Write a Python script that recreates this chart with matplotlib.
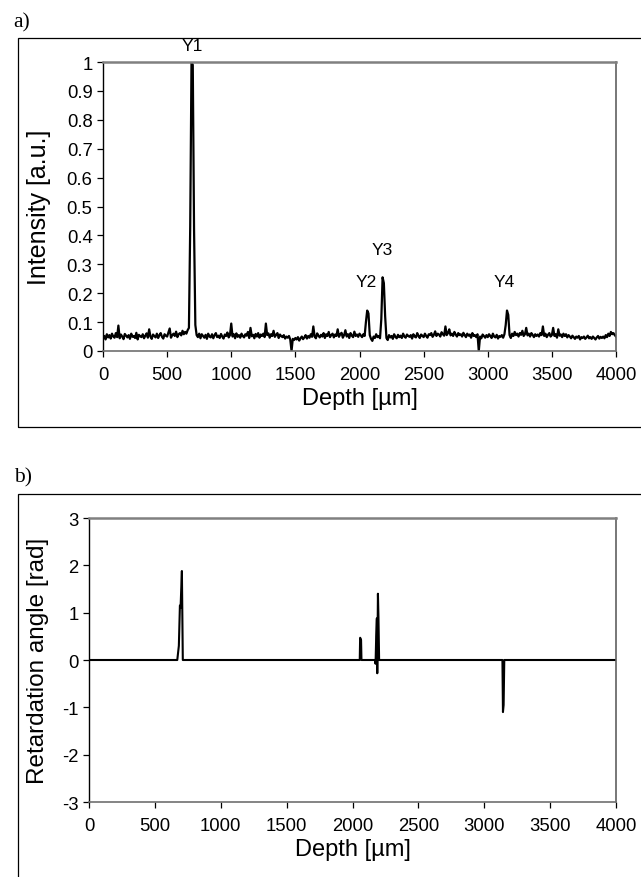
import numpy as np
import matplotlib
matplotlib.use("Agg")
import matplotlib.pyplot as plt
from matplotlib.patches import Rectangle

plt.rcParams['font.family'] = ['Liberation Sans', 'DejaVu Sans']
plt.rcParams['axes.unicode_minus'] = False

#---------------------------------------------------------------------------------------------------
# Data
#---------------------------------------------------------------------------------------------------
# a) intensity, one value every 10 um from 0 to 4000 um, in thousandths of a.u.
depth_step = 10
intensity_milli = [
    45, 52, 40, 58, 47, 55, 43, 60, 50, 46,
    62, 48, 88, 44, 57, 50, 41, 59, 53, 47,
    55, 42, 60, 49, 52, 45, 63, 40, 56, 51,
    48, 58, 44, 53, 61, 46, 75, 50, 42, 57,
    52, 47, 60, 45, 55, 62, 49, 43, 58, 53,
    50, 64, 78, 46, 55, 60, 52, 67, 48, 58,
    62, 54, 70, 58, 66, 60, 72, 80, 430, 1000,
    990, 420, 90, 55, 48, 60, 44, 58, 52, 46,
    56, 42, 60, 50, 47, 58, 44, 55, 62, 48,
    53, 45, 59, 50, 43, 57, 52, 64, 47, 55,
    95, 50, 58, 44, 61, 49, 55, 46, 60, 52,
    47, 58, 53, 66, 45, 80, 51, 56, 44, 59,
    50, 62, 46, 57, 52, 60, 48, 95, 55, 61,
    46, 58, 52, 70, 49, 56, 62, 45, 57, 51,
    48, 55, 43, 50, 46, 52, 40, 0, 42, 38,
    45, 40, 48, 36, 44, 50, 41, 47, 55, 43,
    52, 46, 58, 49, 85, 50, 44, 61, 53, 47,
    56, 50, 62, 45, 58, 52, 66, 48, 55, 60,
    47, 57, 52, 75, 49, 58, 63, 46, 55, 72,
    50, 58, 45, 62, 53, 48, 67, 52, 57, 49,
    60, 54, 48, 58, 52, 100, 140, 130, 55, 42,
    35, 50, 45, 58, 48, 52, 44, 110, 255, 235,
    120, 45, 38, 55, 47, 52, 42, 58, 49, 44,
    56, 48, 53, 45, 60, 50, 46, 57, 52, 49,
    55, 43, 58, 50, 47, 62, 52, 45, 57, 53,
    48, 60, 52, 46, 58, 55, 62, 49, 56, 68,
    52, 60, 57, 50, 65, 58, 53, 85, 55, 62,
    75, 54, 60, 52, 66, 57, 50, 62, 55, 58,
    50, 63, 55, 48, 60, 53, 57, 46, 62, 52,
    55, 48, 58, 0, 50, 44, 57, 52, 46, 55,
    48, 58, 52, 45, 60, 50, 47, 56, 43, 52,
    49, 55, 46, 58, 90, 140, 125, 55, 45, 60,
    52, 66, 55, 60, 50, 62, 56, 70, 52, 58,
    80, 54, 60, 50, 62, 56, 48, 58, 52, 57,
    50, 62, 55, 85, 52, 60, 48, 56, 62, 50,
    55, 80, 52, 58, 46, 75, 53, 57, 48, 60,
    52, 58, 47, 55, 50, 44, 53, 48, 42, 50,
    46, 52, 40, 48, 45, 50, 42, 47, 53, 44,
    48, 42, 50, 45, 40, 47, 52, 43, 49, 45,
    50, 44, 55, 48, 60, 52, 66, 58, 62, 55,
    50,
]
depth_a = np.arange(len(intensity_milli)) * depth_step
intensity = np.array(intensity_milli) / 1000.0

peak_labels = ["Y1", "Y2", "Y3", "Y4"]
peak_label_x = [700, 2055, 2180, 3130]
peak_label_y = [1.03, 0.215, 0.325, 0.215]

# b) retardation angle, zero except at the four interfaces
depth_b = [0, 670, 682, 690, 695, 705, 712,
           2055, 2058, 2065, 2068,
           2170, 2175, 2180, 2185, 2188, 2193, 2197, 2202,
           3138, 3142, 3147, 3152, 4000]
retardation = [0, 0, 0.3, 1.15, 1.1, 1.88, 0,
               0, 0.47, 0.42, 0,
               0, -0.08, 0.5, 0.88, -0.28, 1.4, 0.9, 0,
               0, -1.1, -0.95, 0, 0]

x_ticks = list(range(0, 4001, 500))
a_ticks = [0, 0.1, 0.2, 0.3, 0.4, 0.5, 0.6, 0.7, 0.8, 0.9, 1]
a_tick_labels = ["0", "0.1", "0.2", "0.3", "0.4", "0.5", "0.6", "0.7", "0.8", "0.9", "1"]
b_ticks = [-3, -2, -1, 0, 1, 2, 3]

#---------------------------------------------------------------------------------------------------
# Helpers
#---------------------------------------------------------------------------------------------------
W, H = 641, 878


def style_axes(ax):
    ax.spines['left'].set_color('black')
    ax.spines['left'].set_linewidth(1.0)
    ax.spines['bottom'].set_color('#707070')
    ax.spines['bottom'].set_linewidth(1.2)
    ax.spines['top'].set_color('#808080')
    ax.spines['top'].set_linewidth(1.8)
    ax.spines['right'].set_color('#606060')
    ax.spines['right'].set_linewidth(1.2)
    ax.tick_params(direction='out', length=4.5, width=0.9, color='black', labelsize=13.3)
    ax.tick_params(axis='x', pad=6)
    ax.tick_params(axis='y', pad=3)
    ax.set_xlim(0, 4000)
    ax.set_xticks(x_ticks)
    ax.set_xlabel("Depth [µm]", fontsize=17, labelpad=3)


def frame_box(fig, left, top, bottom, right=W + 5):
    fig.patches.append(Rectangle((left / W, 1 - bottom / H), (right - left) / W, (bottom - top) / H,
                                 transform=fig.transFigure, fill=False, edgecolor='black',
                                 linewidth=0.9, zorder=0))


#---------------------------------------------------------------------------------------------------
# Figure
#---------------------------------------------------------------------------------------------------
fig = plt.figure(figsize=(W / 100, H / 100), dpi=100)

frame_box(fig, 18, 39, 428)
frame_box(fig, 18, 495, H + 5)

fig.text(13 / W, 1 - 23 / H, "a)", family='Liberation Serif', fontsize=15.5, va='center', ha='left')
fig.text(14 / W, 1 - 478 / H, "b)", family='Liberation Serif', fontsize=15.5, va='center', ha='left')

# a) intensity
ax1 = fig.add_axes([103 / W, 1 - 352 / H, (616 - 103) / W, (352 - 63) / H])
ax1.plot(depth_a, intensity, color='black', linewidth=1.6)
ax1.set_ylim(0, 1)
ax1.set_yticks(a_ticks)
ax1.set_yticklabels(a_tick_labels)
style_axes(ax1)
ax1.set_ylabel("Intensity [a.u.]", fontsize=18, va='center')
ax1.yaxis.set_label_coords((39 - 103) / (616 - 103), 0.5)
for label, lx, ly in zip(peak_labels, peak_label_x, peak_label_y):
    ax1.text(lx, ly, label, fontsize=12.5, ha='center', va='bottom', clip_on=False)

# b) retardation angle
ax2 = fig.add_axes([89 / W, 1 - 803 / H, (616 - 89) / W, (803 - 519) / H])
ax2.plot(depth_b, retardation, color='black', linewidth=1.5)
ax2.set_ylim(-3, 3)
ax2.set_yticks(b_ticks)
style_axes(ax2)
ax2.set_ylabel("Retardation angle [rad]", fontsize=17.5, va='center')
ax2.yaxis.set_label_coords((38.5 - 89) / (616 - 89), 0.5)

fig.savefig("out.png", dpi=100)
